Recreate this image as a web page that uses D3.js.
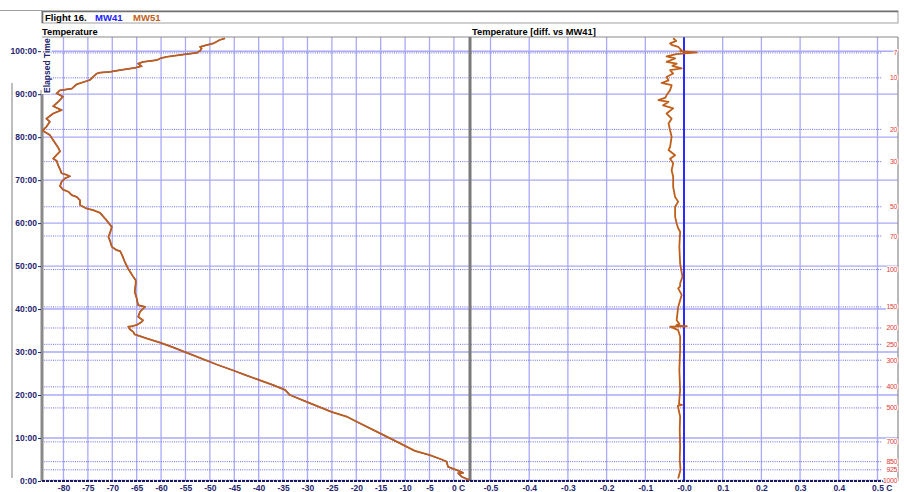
<!DOCTYPE html>
<html><head><meta charset="utf-8">
<script src="https://cdn.jsdelivr.net/npm/d3@7"></script>
<style>
body{margin:0;background:#fff}
svg{display:block;font-family:"Liberation Sans",Arial,sans-serif}
</style>
</head><body>
<svg id="c" width="904" height="492"></svg>
<script>
// ---------- DATA ----------
const title = "Flight 16.";
const seriesNames = ["MW41", "MW51"];
const panelLeftTitle = "Temperature";
const panelRightTitle = "Temperature [diff. vs MW41]";
const yAxisTitle = "Elapsed Time";

// elapsed time (minutes) and MW51 temperature (°C)
const tempTimes = [0.2,1.0,1.8,1.9,2.4,3.3,4.5,5.0,6.0,7.0,8.8,10.9,13.8,15.0,16.1,17.0,18.3,20.0,21.2,22.3,23.7,24.7,25.6,27.1,29.7,31.2,32.2,33.2,34.1,34.7,35.3,35.9,36.0,36.3,37.0,37.4,38.2,39.4,40.5,40.9,42.5,44.0,46.0,
  46.7,47.7,49.5,50.9,52.6,53.5,53.7,54.5,56.0,56.8,57.6,59.1,60.7,61.6,62.4,63.0,63.4,64.2,65.3,66.1,66.5,67.3,67.8,68.6,69.6,70.4,70.9,71.3,71.6,72.5,73.5,74.5,75.0,76.0,76.7,77.6,78.1,79.3,80.5,81.2,81.6,82.4,83.6,84.3,84.9,85.5,86.3,87.2,88.2,89.4,90.2,90.9,91.3,92.3,93.3,94.8,95.0,95.2,95.6,96.1,96.5,97.1,97.5,97.9,98.3,98.7,99.3,99.6,100.1,100.6,101.0,101.4,101.8,102.6,103.0];
const tempMW51 = [3.2,1.6,0.9,1.9,0.9,-1.2,-1.5,-2.5,-4.9,-8.0,-11.1,-14.8,-19.9,-22.0,-25.1,-27.1,-29.9,-33.6,-34.6,-37.0,-40.4,-42.8,-44.9,-48.6,-54.4,-57.8,-60.2,-63.0,-65.4,-65.7,-66.4,-66.7,-66.0,-65.0,-64.0,-63.7,-64.7,-64.3,-63.3,-64.7,-65.0,-65.4,-65.2,
  -65.2,-65.8,-66.8,-67.4,-68.0,-68.4,-69.1,-70.1,-70.5,-70.8,-70.5,-70.1,-71.2,-71.9,-72.5,-73.9,-75.3,-76.6,-76.6,-77.3,-78.3,-79.0,-80.1,-80.7,-80.4,-79.7,-78.7,-79.5,-80.4,-80.7,-81.1,-81.4,-82.1,-81.3,-80.7,-81.1,-81.4,-82.1,-82.8,-83.8,-84.3,-83.5,-82.8,-83.5,-82.8,-82.1,-80.4,-82.1,-81.1,-80.1,-81.4,-80.7,-78.3,-77.3,-74.6,-73.2,-72.5,-70.5,-68.4,-65.4,-64.0,-64.7,-63.7,-60.9,-60.2,-58.9,-54.8,-52.7,-52.0,-51.7,-52.0,-50.7,-49.3,-48.0,-46.9];

// elapsed time (minutes) and MW51 - MW41 difference (°C)
const diffTimes = [0.6,2.6,5.0,8.0,12.0,15.0,17.5,17.7,17.9,21.2,25.8,30.5,33.6,35.1,35.7,35.9,36.0,36.2,36.6,37.4,40.5,43.3,44.8,45.3,46.0,47.5,50.6,54.5,58.0,58.8,59.9,61.5,63.8,65.0,66.1,68.4,70.8,72.3,73.9,75.0,75.8,77.0,77.7,80.1,81.6,83.2,84.3,85.5,86.7,87.4,88.2,88.6,89.2,89.8,90.9,92.1,92.6,93.2,94.0,94.8,95.6,96.0,96.6,97.1,97.5,98.3,98.8,99.3,99.5,99.7,100.0,100.2,101.0,101.4,101.8,102.4,103.0];
const diffMW51 = [-0.015,-0.009,-0.011,-0.010,-0.011,-0.010,-0.016,-0.005,-0.013,-0.010,-0.012,-0.010,-0.010,-0.015,-0.030,-0.036,0.007,-0.020,-0.012,-0.019,-0.015,-0.006,-0.015,-0.010,-0.010,-0.004,-0.010,-0.012,-0.010,-0.015,-0.019,-0.023,-0.023,-0.015,-0.023,-0.028,-0.028,-0.032,-0.028,-0.036,-0.023,-0.040,-0.036,-0.032,-0.036,-0.040,-0.032,-0.045,-0.028,-0.054,-0.040,-0.066,-0.048,-0.045,-0.036,-0.032,-0.058,-0.040,-0.045,-0.028,-0.036,-0.006,-0.030,-0.019,-0.045,-0.023,-0.045,-0.020,0.003,0.033,-0.010,-0.006,-0.015,-0.030,-0.036,-0.020,-0.028];

// pressure levels (hPa) and the elapsed time at which they were reached
const pressureLevels = ["7","10","20","30","50","70","100","150","200","250","300","400","500","700","850","925","1000"];
const pressureTimes  = [99.6,93.8,81.8,74.3,63.8,57.0,49.2,40.5,35.6,31.8,28.1,21.9,17.0,9.1,4.5,2.6,0.2];

// tick values / labels
const timeTicks = [0,10,20,30,40,50,60,70,80,90,100];
const timeTickLabels = ["0:00","10:00","20:00","30:00","40:00","50:00","60:00","70:00","80:00","90:00","100:00"];
const tempTicks = [-80,-75,-70,-65,-60,-55,-50,-45,-40,-35,-30,-25,-20,-15,-10,-5,0];
const tempTickLabels = ["-80","-75","-70","-65","-60","-55","-50","-45","-40","-35","-30","-25","-20","-15","-10","-5","0"];
const diffTicks = [-0.5,-0.4,-0.3,-0.2,-0.1,0,0.1,0.2,0.3,0.4,0.5];
const diffTickLabels = ["-0.5","-0.4","-0.3","-0.2","-0.1","-0.0","0.1","0.2","0.3","0.4","0.5"];
const unitLabel = "C";

// ---------- LAYOUT ----------
const L = {x0:42, x1:470, x2:898, yTop:37, yBot:481};
const navy = "#24246e", brown = "#bf5f1a", blue = "#2020ff";
const gridCol = "#a9a9f6", dotCol = "#6a6ae8";

const svg = d3.select("#c");
const xL = d3.scaleLinear().domain([-84.4, 3.3]).range([L.x0, L.x1]);
const xR = d3.scaleLinear().domain([-0.553, 0.553]).range([L.x1, L.x2]);
const y  = d3.scaleLinear().domain([0, 103.3]).range([L.yBot, L.yTop]);

// header box
svg.append("line").attr("x1",0).attr("x2",L.x0).attr("y1",10.5).attr("y2",10.5).attr("stroke","#a0a0a0").attr("stroke-width",1);
svg.append("rect").attr("x",42).attr("y",11).attr("width",856).attr("height",12)
  .attr("fill","#fff").attr("stroke","#a0a0a0").attr("stroke-width",1);
svg.append("path").attr("d","M42.5,23V11.5H898").attr("fill","none").attr("stroke","#707070").attr("stroke-width",1.6);
const tt = svg.append("text").attr("x",45).attr("y",20.5).attr("font-size",9.5).attr("font-weight","bold");
tt.append("tspan").attr("fill","#000").text(title);
tt.append("tspan").attr("x",95).attr("fill",blue).text(seriesNames[0]);
tt.append("tspan").attr("x",133).attr("fill","#c0601a").text(seriesNames[1]);

// panel titles
svg.append("text").attr("x",42).attr("y",35).attr("font-size",9.3).attr("font-weight","bold").attr("fill","#000").text(panelLeftTitle);
svg.append("text").attr("x",472).attr("y",35).attr("font-size",9.3).attr("font-weight","bold").attr("fill","#000").text(panelRightTitle);

const g = svg.append("g");

// vertical grid lines
g.selectAll(".vgl").data(tempTicks).join("line")
  .attr("x1",d=>xL(d)).attr("x2",d=>xL(d)).attr("y1",L.yTop).attr("y2",L.yBot)
  .attr("stroke",gridCol).attr("stroke-width",1.3);
g.selectAll(".vgr").data(diffTicks.filter(d=>d!==0)).join("line")
  .attr("x1",d=>xR(d)).attr("x2",d=>xR(d)).attr("y1",L.yTop).attr("y2",L.yBot)
  .attr("stroke",gridCol).attr("stroke-width",1.3);

// horizontal grid lines
g.selectAll(".hg").data(timeTicks.filter(d=>d>0)).join("line")
  .attr("x1",L.x0).attr("x2",L.x2).attr("y1",d=>y(d)).attr("y2",d=>y(d))
  .attr("stroke",gridCol).attr("stroke-width",1.4);

// pressure dotted lines
g.selectAll(".pl").data(pressureTimes).join("line")
  .attr("x1",L.x0).attr("x2",L.x2-16).attr("y1",d=>y(d)).attr("y2",d=>y(d))
  .attr("stroke",dotCol).attr("stroke-width",1).attr("stroke-dasharray","1,1.2");

// zero line of the diff panel
g.append("line").attr("x1",xR(0)).attr("x2",xR(0)).attr("y1",L.yTop).attr("y2",L.yBot)
  .attr("stroke","#2a2aff").attr("stroke-width",2);

// borders
g.append("line").attr("x1",L.x0).attr("x2",L.x2).attr("y1",L.yTop).attr("y2",L.yTop).attr("stroke","#8a8a8a").attr("stroke-width",1.2);
g.append("line").attr("x1",L.x2).attr("x2",L.x2).attr("y1",L.yTop).attr("y2",L.yBot).attr("stroke","#8a8a8a").attr("stroke-width",1.2);
g.append("line").attr("x1",L.x1).attr("x2",L.x1).attr("y1",L.yTop).attr("y2",L.yBot).attr("stroke","#7a7a7a").attr("stroke-width",3);
g.append("line").attr("x1",L.x0).attr("x2",L.x0).attr("y1",90).attr("y2",L.yBot).attr("stroke","#8a8a8a").attr("stroke-width",3);
g.append("line").attr("x1",12).attr("x2",12).attr("y1",83).attr("y2",478).attr("stroke","#a8a8a8").attr("stroke-width",1.5);
g.append("line").attr("x1",L.x0).attr("x2",L.x2).attr("y1",L.yBot).attr("y2",L.yBot).attr("stroke","#1a1a66").attr("stroke-width",2).attr("stroke-dasharray","3,1");

// clip paths
const defs = svg.append("defs");
defs.append("clipPath").attr("id","cl").append("rect").attr("x",L.x0).attr("y",L.yTop).attr("width",L.x1-L.x0).attr("height",L.yBot-L.yTop);
defs.append("clipPath").attr("id","cr").append("rect").attr("x",L.x1+1).attr("y",L.yTop).attr("width",L.x2-L.x1).attr("height",L.yBot-L.yTop);

// temperature profile
const tempData = tempTimes.map((t,i)=>({t, v:tempMW51[i]}));
const lineL = d3.line().x(d=>xL(d.v)).y(d=>y(d.t));
g.append("path").datum(tempData).attr("clip-path","url(#cl)")
  .attr("d",lineL).attr("fill","none").attr("stroke",blue).attr("stroke-width",1.2);
g.append("path").datum(tempData).attr("clip-path","url(#cl)")
  .attr("d",lineL).attr("fill","none").attr("stroke",brown).attr("stroke-width",1.8).attr("stroke-linejoin","round");

// difference profile
const diffData = diffTimes.map((t,i)=>({t, v:diffMW51[i]}));
const lineR = d3.line().x(d=>xR(d.v)).y(d=>y(d.t));
g.append("path").datum(diffData).attr("clip-path","url(#cr)")
  .attr("d",lineR).attr("fill","none").attr("stroke",brown).attr("stroke-width",1.8).attr("stroke-linejoin","round");

// pressure labels
g.selectAll(".plab").data(pressureTimes).join("text")
  .attr("x",897).attr("y",d=>y(d)+2.5).attr("text-anchor","end")
  .attr("font-size",7).attr("letter-spacing","-0.4").attr("fill","#e03a3a")
  .attr("stroke","#fff").attr("stroke-width",2).attr("paint-order","stroke")
  .text((d,i)=>pressureLevels[i]);

// y axis
const yAxis = d3.axisLeft(y).tickValues(timeTicks).tickFormat((d,i)=>timeTickLabels[i]).tickSize(3).tickPadding(1);
const ya = svg.append("g").attr("transform",`translate(${L.x0-1},0)`).call(yAxis);
ya.select(".domain").remove();
ya.selectAll("line").attr("stroke",navy);
ya.selectAll("text").attr("font-size",8.5).attr("font-weight","bold").attr("fill",navy).attr("font-family","Liberation Sans, Arial, sans-serif");

// y axis title (over the border)
const yt = svg.append("g").attr("transform","translate(49.5,93) rotate(-90)");
yt.append("rect").attr("x",-1).attr("y",-8).attr("width",56).attr("height",10).attr("fill","#fff");
yt.append("text").attr("x",0).attr("y",0).attr("font-size",8.5).attr("font-weight","bold").attr("fill",navy).text(yAxisTitle);

// x axes
function styleX(sel){
  sel.select(".domain").remove();
  sel.selectAll("line").remove();
  sel.selectAll("text").attr("font-size",8.5).attr("font-weight","bold").attr("fill",navy)
    .attr("font-family","Liberation Sans, Arial, sans-serif");
}
const xa = svg.append("g").attr("transform",`translate(0,${L.yBot})`)
  .call(d3.axisBottom(xL).tickValues(tempTicks).tickFormat((d,i)=>tempTickLabels[i]).tickSize(0).tickPadding(4));
styleX(xa);
const xb = svg.append("g").attr("transform",`translate(0,${L.yBot})`)
  .call(d3.axisBottom(xR).tickValues(diffTicks).tickFormat((d,i)=>diffTickLabels[i]).tickSize(0).tickPadding(4));
styleX(xb);
function addUnit(sel){
  const t = sel.selectAll(".tick text").filter((d,i,n)=>i===n.length-1);
  const node = t.node();
  const w0 = node.getComputedTextLength();
  t.text(t.text()+" "+unitLabel);
  const w1 = node.getComputedTextLength();
  t.attr("dx",(w1-w0)/2);
}
addUnit(xa); addUnit(xb);
</script>
</body></html>
